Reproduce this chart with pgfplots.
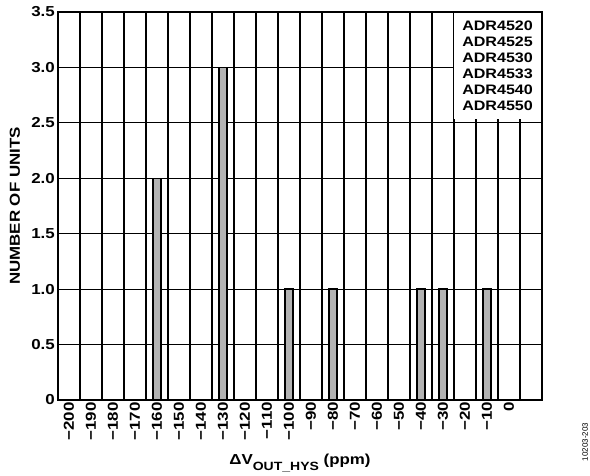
\documentclass[border=0pt]{standalone}
\usepackage{pgfplots}
\pgfplotsset{compat=1.18}
\usepackage{fontspec}
\setmainfont[FakeStretch=1.17]{Liberation Sans}
\newfontfamily\plainfont{Liberation Sans}
\definecolor{bargray}{RGB}{178,178,178}
\begin{document}
\begin{tikzpicture}
\path[use as bounding box] (0,0) rectangle (590bp,476bp);
\begin{axis}[
  at={(58bp,76bp)}, anchor=south west,
  scale only axis, width=484bp, height=388bp,
  xmin=-205, xmax=15, ymin=0, ymax=3.5,
  xtick={-200,-190,...,0},
  xticklabels={−200,−190,−180,−170,−160,−150,−140,−130,−120,−110,−100,−90,−80,−70,−60,−50,−40,−30,−20,−10,0},
  minor xtick={-195,-185,...,5},
  ytick={0,0.5,...,3.5},
  yticklabels={0,0.5,1.0,1.5,2.0,2.5,3.0,3.5},
  major tick length=0pt, minor tick length=0pt,
  xmajorgrids=false, xminorgrids=true, ymajorgrids=true,
  grid style={black, line width=1.2bp},
  minor grid style={black, line width=1.2bp},
  axis line style={black, line width=1.7bp},
  tick label style={font=\fontsize{14.5}{16}\selectfont\bfseries},
  xticklabel style={rotate=90, anchor=east, inner sep=2bp},
  yticklabel style={inner sep=3bp},
  xlabel={\fontsize{14.5}{16}\selectfont\bfseries ΔV\raisebox{-0.35em}{\fontsize{12}{13}\selectfont OUT\_HYS} (ppm)},
  xlabel style={at={(axis description cs:0.5,0)}, anchor=center, yshift=-63bp},
  ylabel={\fontsize{14.5}{17}\selectfont\bfseries NUMBER OF UNITS},
  ylabel style={at={(axis description cs:-0.0888,0.5)}, anchor=center},
]
\addplot[ybar, bar width=8bp, fill=bargray, draw=black, line width=1.4bp]
  coordinates {(-160,2) (-130,3) (-100,1) (-80,1) (-40,1) (-30,1) (-10,1)};
\node[fill=white, anchor=north east, inner xsep=8bp, inner ysep=8bp, align=right,
      font=\fontsize{13.8}{16}\selectfont\bfseries]
  at ([shift={(-0.9bp,-0.9bp)}]rel axis cs:1,1) {ADR4520\\ADR4525\\ADR4530\\ADR4533\\ADR4540\\ADR4550};
\end{axis}
\node[rotate=90, font=\plainfont\fontsize{8}{9}\selectfont] at (585bp,34bp) {10203-203};
\end{tikzpicture}
\end{document}
